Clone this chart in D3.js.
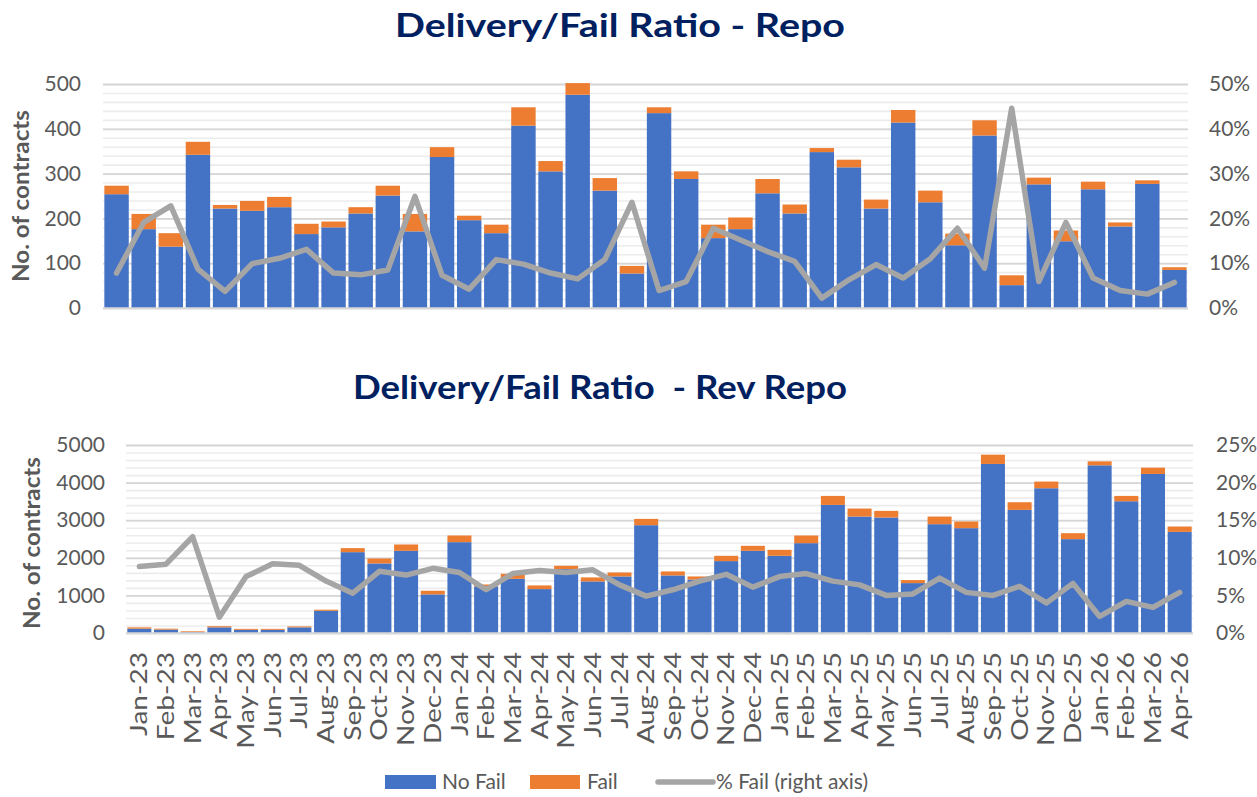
<!DOCTYPE html>
<html>
<head>
<meta charset="utf-8">
<script src="https://cdn.jsdelivr.net/npm/d3@7/dist/d3.min.js"></script>
<style>
  body { margin: 0; background: #fff; }
  text { font-family: Lato, "Open Sans", sans-serif; }
</style>
</head>
<body>
<script>
// months shared by both panels
const months = ["Jan-23","Feb-23","Mar-23","Apr-23","May-23","Jun-23","Jul-23","Aug-23","Sep-23","Oct-23","Nov-23","Dec-23",
  "Jan-24","Feb-24","Mar-24","Apr-24","May-24","Jun-24","Jul-24","Aug-24","Sep-24","Oct-24","Nov-24","Dec-24",
  "Jan-25","Feb-25","Mar-25","Apr-25","May-25","Jun-25","Jul-25","Aug-25","Sep-25","Oct-25","Nov-25","Dec-25",
  "Jan-26","Feb-26","Mar-26","Apr-26"];

// Repo
const repoNoFail = [254,176,137,342,222,217,225,165,180,211,251,171,337,196,167,407,305,476,262,77,
  435,288,156,176,256,211,348,314,222,414,236,140,385,51,276,149,265,182,277,85];
const repoFail = [19,34,30,29,8,22,23,23,13,14,22,39,22,10,19,41,23,26,28,17,
  13,17,30,26,32,20,9,17,20,28,26,26,34,22,15,24,17,9,8,6];
const repoPct = [7.8,19.1,22.8,8.7,3.7,9.9,11.1,13.1,7.8,7.4,8.5,24.9,7.3,4.2,10.8,9.8,7.8,6.5,10.8,23.6,
  3.9,5.9,17.8,15.2,12.6,10.4,2.2,6.3,9.7,6.7,11.0,17.8,8.9,44.6,5.9,19.1,6.7,3.9,3.1,5.7];

// Rev Repo
const revNoFail = [115,90,25,150,85,85,150,590,2150,1850,2186,1027,2416,1240,1442,1168,1700,1372,1504,2867,
  1531,1420,1912,2186,2053,2389,3407,3097,3071,1327,2894,2788,4496,3274,3850,2496,4460,3504,4230,2690];
const revFail = [35,25,20,30,25,25,25,30,107,132,168,97,177,50,133,97,88,106,106,168,
  106,84,141,133,159,204,239,213,177,80,203,177,247,204,177,159,106,142,168,142];
const revPct = [8.85,9.15,12.8,2.1,7.5,9.2,9.0,6.9,5.3,8.2,7.7,8.6,8.05,5.75,7.9,8.3,8.05,8.4,6.4,4.9,
  5.75,6.9,7.8,6.1,7.5,7.9,6.9,6.4,5.0,5.2,7.3,5.4,5.0,6.2,4.0,6.6,2.2,4.2,3.4,5.4];

const leftTicksRepo = [0,100,200,300,400,500];
const rightTicksRepo = [0,10,20,30,40,50];
const leftTicksRev = [0,1000,2000,3000,4000,5000];
const rightTicksRev = [0,5,10,15,20,25];

const legendLabels = ["No Fail","Fail","% Fail (right axis)"];

const BLUE = "#4472C4", ORANGE = "#ED7D31", GREY = "#A5A5A5", TXT = "#595959", NAVY = "#002060";

const svg = d3.select("body").append("svg")
  .attr("width", 1257).attr("height", 797);

function panel(c) {
  const g = svg.append("g");
  const x = d3.scaleBand().domain(months).range([c.x0, c.x1]).paddingInner(0.1).paddingOuter(0.05);
  const y = d3.scaleLinear().domain([0, c.yMax]).range([c.yBase, c.yTop]);
  const yr = d3.scaleLinear().domain([0, c.pMax]).range([c.yBase, c.yTop]);

  // minor grid
  g.append("g").attr("transform", `translate(${c.x0},0)`)
    .call(d3.axisLeft(y).tickValues(d3.range(0, c.yMax + 1, c.minor)).tickSize(-(c.x1 - c.x0)).tickFormat(""))
    .call(a => a.select(".domain").remove())
    .call(a => a.selectAll("line").attr("stroke", "#ececec").attr("stroke-width", 1.6));
  // major grid
  g.append("g").attr("transform", `translate(${c.x0},0)`)
    .call(d3.axisLeft(y).tickValues(c.leftTicks).tickSize(-(c.x1 - c.x0)).tickFormat(""))
    .call(a => a.select(".domain").remove())
    .call(a => a.selectAll("line").attr("stroke", "#d6d6d6").attr("stroke-width", 1.8));

  const rows = months.map((m, i) => ({m, nf: c.noFail[i], f: c.fail[i], p: c.pct[i]}));

  g.selectAll(".nf").data(rows).enter().append("rect")
    .attr("x", d => x(d.m)).attr("width", x.bandwidth())
    .attr("y", d => y(d.nf)).attr("height", d => y(0) - y(d.nf))
    .attr("fill", BLUE);
  g.selectAll(".f").data(rows).enter().append("rect")
    .attr("x", d => x(d.m)).attr("width", x.bandwidth())
    .attr("y", d => y(d.nf + d.f)).attr("height", d => y(d.nf) - y(d.nf + d.f))
    .attr("fill", ORANGE);

  // baseline
  g.append("line").attr("x1", c.x0).attr("x2", c.x1).attr("y1", y(0)).attr("y2", y(0))
    .attr("stroke", "#d9d9d9").attr("stroke-width", 1.5);

  g.append("path").datum(rows)
    .attr("fill", "none").attr("stroke", GREY).attr("stroke-width", 5.5)
    .attr("stroke-linejoin", "round").attr("stroke-linecap", "round")
    .attr("d", d3.line().x(d => x(d.m) + x.bandwidth() / 2).y(d => yr(d.p)));

  // left axis labels
  g.append("g").attr("transform", `translate(${c.leftLabelX},0)`)
    .call(d3.axisLeft(y).tickValues(c.leftTicks).tickSize(0).tickPadding(0).tickFormat(d3.format("d")))
    .call(a => a.select(".domain").remove())
    .call(a => a.selectAll("text").attr("fill", TXT).style("font-size", "21px"));
  // right axis labels
  g.append("g").attr("transform", `translate(${c.rightLabelX},0)`)
    .call(d3.axisRight(yr).tickValues(c.rightTicks).tickSize(0).tickPadding(0).tickFormat(d => d + "%"))
    .call(a => a.select(".domain").remove())
    .call(a => a.selectAll("text").attr("fill", TXT).style("font-size", "21px"));

  // y title
  g.append("text")
    .attr("transform", `translate(${c.yTitleX},${c.yTitleY}) rotate(-90)`)
    .attr("text-anchor", "middle").attr("fill", TXT)
    .style("font-size", "22px").style("font-weight", "bold")
    .attr("textLength", c.yTitleW).attr("lengthAdjust", "spacingAndGlyphs")
    .text("No. of contracts");

  // title
  g.append("text")
    .attr("x", c.titleX).attr("y", c.titleY).attr("text-anchor", "middle")
    .attr("fill", NAVY).style("font-size", "33px").style("font-weight", "bold")
    .style("white-space", "pre")
    .attr("textLength", c.titleW).attr("lengthAdjust", "spacingAndGlyphs")
    .text(c.title);

  if (c.showX) {
    g.append("g").attr("transform", `translate(0,${c.yBase})`)
      .call(d3.axisBottom(x).tickSize(0).tickPadding(0))
      .call(a => a.select(".domain").remove())
      .call(a => a.selectAll("text")
        .attr("transform", "rotate(-90)")
        .attr("x", -19).attr("y", 0).attr("dy", "0.35em")
        .attr("text-anchor", "end").attr("fill", TXT).style("font-size", "23px")
        .each(function () {
          const len = this.getComputedTextLength();
          d3.select(this).attr("textLength", len * 1.22).attr("lengthAdjust", "spacingAndGlyphs");
        }));
  }
}

panel({
  noFail: repoNoFail, fail: repoFail, pct: repoPct,
  x0: 103, x1: 1188, yBase: 308, yTop: 84, yMax: 500, minor: 20, pMax: 50,
  leftTicks: leftTicksRepo, rightTicks: rightTicksRepo,
  leftLabelX: 81, rightLabelX: 1209,
  yTitleX: 29, yTitleY: 196, yTitleW: 172,
  title: "Delivery/Fail Ratio - Repo", titleX: 620, titleY: 37, titleW: 450,
  showX: false
});

panel({
  noFail: revNoFail, fail: revFail, pct: revPct,
  x0: 126, x1: 1193, yBase: 633, yTop: 445, yMax: 5000, minor: 200, pMax: 25,
  leftTicks: leftTicksRev, rightTicks: rightTicksRev,
  leftLabelX: 105, rightLabelX: 1216,
  yTitleX: 40, yTitleY: 543, yTitleW: 172,
  title: "Delivery/Fail Ratio  - Rev Repo", titleX: 600, titleY: 399, titleW: 494,
  showX: true
});

// legend
const lg = svg.append("g").style("font-size", "21px");
const ly = 782;
lg.append("rect").attr("x", 385).attr("y", ly - 7).attr("width", 51).attr("height", 14).attr("fill", BLUE);
lg.append("text").attr("x", 442).attr("y", ly).attr("dy", "0.35em").attr("fill", TXT).text(legendLabels[0]);
lg.append("rect").attr("x", 530).attr("y", ly - 7).attr("width", 50).attr("height", 14).attr("fill", ORANGE);
lg.append("text").attr("x", 587).attr("y", ly).attr("dy", "0.35em").attr("fill", TXT).text(legendLabels[1]);
lg.append("line").attr("x1", 658).attr("x2", 713).attr("y1", ly).attr("y2", ly)
  .attr("stroke", GREY).attr("stroke-width", 5.5).attr("stroke-linecap", "round");
lg.append("text").attr("x", 716).attr("y", ly).attr("dy", "0.35em").attr("fill", TXT).text(legendLabels[2]);
</script>
</body>
</html>
